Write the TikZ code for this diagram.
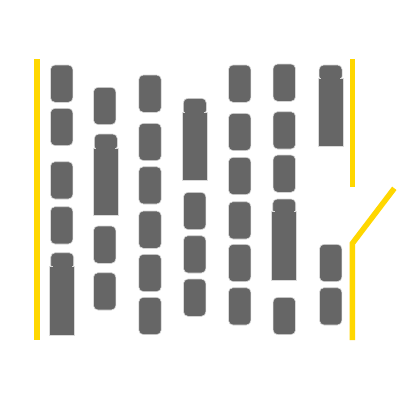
\documentclass[tikz,border=0pt]{standalone}
\usetikzlibrary{calc}
\definecolor{vgray}{HTML}{666666}
\definecolor{vedge}{HTML}{DADADA}
\definecolor{curb}{HTML}{FFD700}
\tikzset{
  carst/.style={fill=vgray, draw=vedge, line width=0.6pt, rounded corners=4.5pt},
  bodyst/.style={fill=vgray, draw=vedge, line width=0.6pt},
  neckst/.style={fill=vgray, draw=none},
  curbst/.style={draw=curb, line width=5.5pt, line join=miter}
}
\newcommand\carshape[2]{\path[carst] (#1-11.2,#2) rectangle ++(22.4,37.3);}
% cx, cabtop, bodytop, bodybottom
\newcommand\truckshape[4]{%
  \path[carst] (#1-11.5,#2) rectangle (#1+11.5,#3+3);
  \path[bodyst] (#1-12.5,#3) rectangle (#1+12.5,#4);
  \path[neckst] (#1-9.5,#3-2) rectangle (#1+9.5,#3+1);
}
\begin{document}
\begin{tikzpicture}[x=1pt,y=-1pt]
\useasboundingbox (0,0) rectangle (400,400);
\fill[white] (0,0) rectangle (400,400);
% curbs
\draw[curbst] (37,59) coordinate (l1) -- (37,340) coordinate (l2);
\draw[curbst] (352.5,59) coordinate (r1) -- (352.5,187) coordinate (r2);
\draw[curbst] (394.3,188.3) coordinate (g1) -- (352.3,243.5) coordinate (g2) -- (352.3,340) coordinate (g3);
% column 1
\carshape{61.7}{65}
\carshape{61.7}{108.3}
\carshape{61.7}{161.7}
\carshape{61.7}{206.7}
\truckshape{62.2}{252.7}{266.5}{335}
% column 2
\carshape{104.7}{87.3}
\truckshape{105.8}{134}{147.8}{215.7}
\carshape{104.7}{226}
\carshape{104.7}{272.7}
% column 3
\carshape{150}{75}
\carshape{150}{123.3}
\carshape{150}{166.7}
\carshape{150}{211}
\carshape{150}{254.3}
\carshape{150}{297.3}
% column 4
\truckshape{194.8}{98.3}{112}{180}
\carshape{194.7}{192.3}
\carshape{194.7}{235.7}
\carshape{194.7}{279}
% column 5
\carshape{239.7}{65}
\carshape{239.7}{113.3}
\carshape{239.7}{157.3}
\carshape{239.7}{201.7}
\carshape{239.7}{244.3}
\carshape{239.7}{287.7}
% column 6
\carshape{284.3}{64}
\carshape{284.3}{111.7}
\carshape{284.3}{155}
\truckshape{284.2}{199}{211.5}{280}
\carshape{284.3}{297.3}
% column 7
\truckshape{330.6}{65}{78}{146.7}
\carshape{330.7}{244.3}
\carshape{330.7}{287.7}
\end{tikzpicture}
\end{document}
